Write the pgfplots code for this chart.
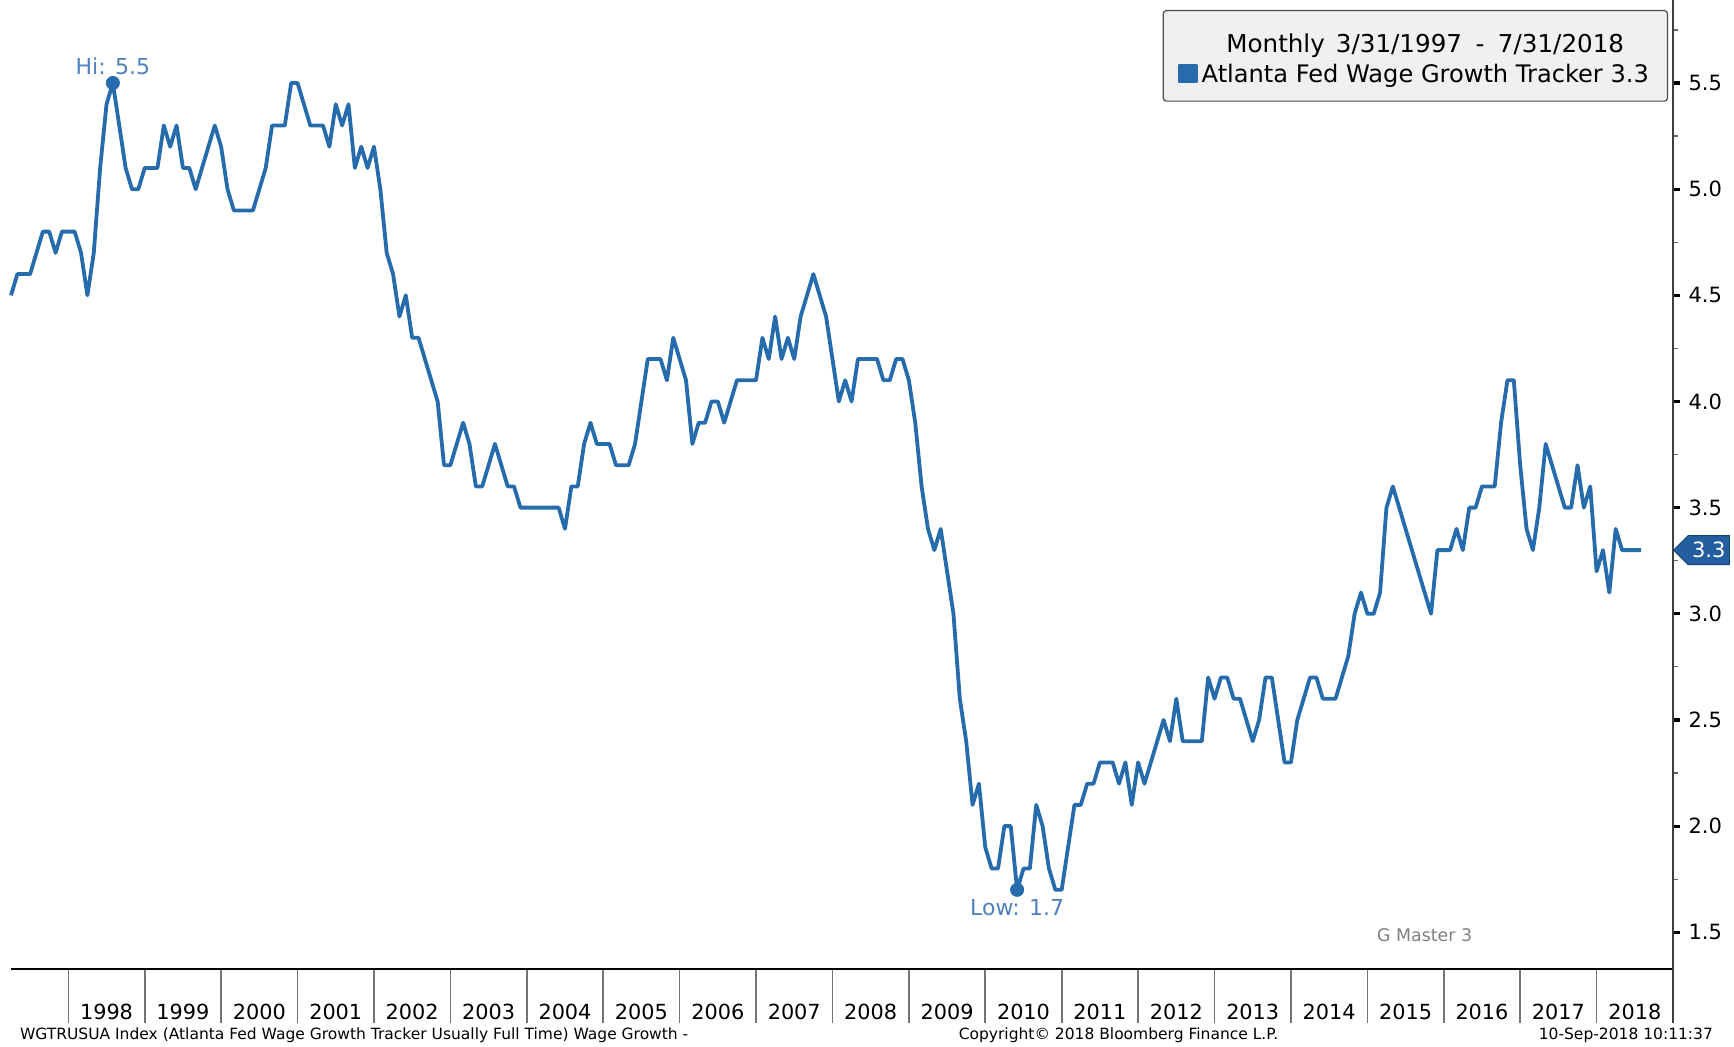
\documentclass[border=0pt]{standalone}
\usepackage{fontspec}
\setmainfont{DejaVu Sans}
\usepackage{pgfplots}
\usepackage{pgfplotstable}
\pgfplotsset{compat=1.18}
\usetikzlibrary{shapes.symbols}
\definecolor{bbblue}{RGB}{38,107,172}
\definecolor{lblblue}{RGB}{79,129,189}
\definecolor{tagblue}{RGB}{35,95,160}

\pgfplotstableread{
v
4.5
4.6
4.6
4.6
4.7
4.8
4.8
4.7
4.8
4.8
4.8
4.7
4.5
4.7
5.1
5.4
5.5
5.3
5.1
5.0
5.0
5.1
5.1
5.1
5.3
5.2
5.3
5.1
5.1
5.0
5.1
5.2
5.3
5.2
5.0
4.9
4.9
4.9
4.9
5.0
5.1
5.3
5.3
5.3
5.5
5.5
5.4
5.3
5.3
5.3
5.2
5.4
5.3
5.4
5.1
5.2
5.1
5.2
5.0
4.7
4.6
4.4
4.5
4.3
4.3
4.2
4.1
4.0
3.7
3.7
3.8
3.9
3.8
3.6
3.6
3.7
3.8
3.7
3.6
3.6
3.5
3.5
3.5
3.5
3.5
3.5
3.5
3.4
3.6
3.6
3.8
3.9
3.8
3.8
3.8
3.7
3.7
3.7
3.8
4.0
4.2
4.2
4.2
4.1
4.3
4.2
4.1
3.8
3.9
3.9
4.0
4.0
3.9
4.0
4.1
4.1
4.1
4.1
4.3
4.2
4.4
4.2
4.3
4.2
4.4
4.5
4.6
4.5
4.4
4.2
4.0
4.1
4.0
4.2
4.2
4.2
4.2
4.1
4.1
4.2
4.2
4.1
3.9
3.6
3.4
3.3
3.4
3.2
3.0
2.6
2.4
2.1
2.2
1.9
1.8
1.8
2.0
2.0
1.7
1.8
1.8
2.1
2.0
1.8
1.7
1.7
1.9
2.1
2.1
2.2
2.2
2.3
2.3
2.3
2.2
2.3
2.1
2.3
2.2
2.3
2.4
2.5
2.4
2.6
2.4
2.4
2.4
2.4
2.7
2.6
2.7
2.7
2.6
2.6
2.5
2.4
2.5
2.7
2.7
2.5
2.3
2.3
2.5
2.6
2.7
2.7
2.6
2.6
2.6
2.7
2.8
3.0
3.1
3.0
3.0
3.1
3.5
3.6
3.5
3.4
3.3
3.2
3.1
3.0
3.3
3.3
3.3
3.4
3.3
3.5
3.5
3.6
3.6
3.6
3.9
4.1
4.1
3.7
3.4
3.3
3.5
3.8
3.7
3.6
3.5
3.5
3.7
3.5
3.6
3.2
3.3
3.1
3.4
3.3
3.3
3.3
3.3
}\wagedata

\begin{document}
\begin{tikzpicture}
\begin{axis}[
  at={(5.5pt,38.5pt)}, anchor=south west,
  scale only axis, width=831pt, height=484.5pt,
  xmin=0, xmax=261, ymin=1.327, ymax=5.891,
  clip=false,
  axis x line*=bottom, axis y line*=right,
  x axis line style={black, line width=1pt},
  y axis line style={black!75, line width=0.8pt},
  xtick={9,21,...,249},
  xticklabels={1998,1999,2000,2001,2002,2003,2004,2005,2006,2007,2008,2009,2010,2011,2012,2013,2014,2015,2016,2017,2018},
  extra x ticks={261}, extra x tick labels={},
  xtick align=outside,
  x tick style={draw=black!55, line width=0.8pt, /pgfplots/major tick length=27pt},
  extra x tick style={x tick style={draw=black!75, line width=0.8pt, /pgfplots/major tick length=27pt}},
  xticklabel style={anchor=base, xshift=19.1pt, yshift=-21pt, font=\fontsize{10.4}{12}\selectfont},
  ytick={1.5,2,...,5.5},
  minor ytick={1.75,2.25,...,5.75},
  ytick align=outside,
  y tick style={black, line width=1.6pt, /pgfplots/major tick length=3.5pt, /pgfplots/minor tick length=2.5pt},
  minor y tick style={black!60, line width=0.6pt},
  yticklabel style={anchor=west, font=\fontsize{10.5}{12}\selectfont,
    /pgf/number format/.cd, fixed, fixed zerofill, precision=1},
  /pgf/number format/assume math mode=true,
  legend style={at={(0.99699,0.98968)}, anchor=north east, fill=black!6, draw=black!70,
    line width=0.6pt, rounded corners=1.5pt, font=\fontsize{12.05}{14}\selectfont,
    inner xsep=7.3pt, inner ysep=6pt, row sep=0pt},
  legend cell align=center,
]
\addlegendimage{empty legend}
\addlegendentry{\fontsize{12.3}{14}\selectfont\rule{0pt}{13.1pt}Monthly\hspace{0.45em}3/31/1997\hspace{0.55em}-\hspace{0.55em}7/31/2018}
\addplot[bbblue, line width=1.9pt, line join=round, mark=none,
  legend image code/.code={\fill[bbblue, sharp corners] (0pt,-3.5pt) rectangle (8pt,4.5pt);}]
  table[x expr=\coordindex, y=v] {\wagedata};
\addlegendentry{\rule[-3.9pt]{0pt}{1pt}Atlanta Fed Wage Growth Tracker 3.3}
\addplot[only marks, mark=*, mark size=3.3pt, bbblue, forget plot] coordinates {(16,5.5) (158,1.7)};
\node[anchor=base, yshift=4.5pt, text=lblblue, font=\fontsize{11}{13}\selectfont] at (axis cs:16,5.5) {Hi: 5.5};
\node[anchor=base, yshift=-12.7pt, text=lblblue, font=\fontsize{11}{13}\selectfont] at (axis cs:158,1.7) {Low: 1.7};
\node[signal, signal to=west, fill=tagblue, draw=tagblue!70!black, text=white, anchor=west,
  minimum height=14.5pt, minimum width=24.5pt, inner xsep=2pt, inner ysep=1pt,
  font=\fontsize{10.5}{12}\selectfont] at (axis cs:261,3.3) {3.3};
\node[anchor=base, text=black!50, font=\fontsize{8.7}{10}\selectfont] at (axis cs:222,1.455) {G Master 3};
\end{axis}
\node[anchor=base west, font=\fontsize{7.75}{9}\selectfont] at (6.5pt,3.5pt) {WGTRUSUA Index (Atlanta Fed Wage Growth Tracker Usually Full Time) Wage Growth -};
\node[anchor=base, font=\fontsize{7.75}{9}\selectfont] at (559.25pt,3.5pt) {Copyright© 2018 Bloomberg Finance L.P.};
\node[anchor=base east, font=\fontsize{7.75}{9}\selectfont] at (860pt,3.5pt) {10-Sep-2018 10:11:37};
\pgfresetboundingbox
\path[use as bounding box] (0,0) rectangle (867pt,523pt);
\end{tikzpicture}
\end{document}
